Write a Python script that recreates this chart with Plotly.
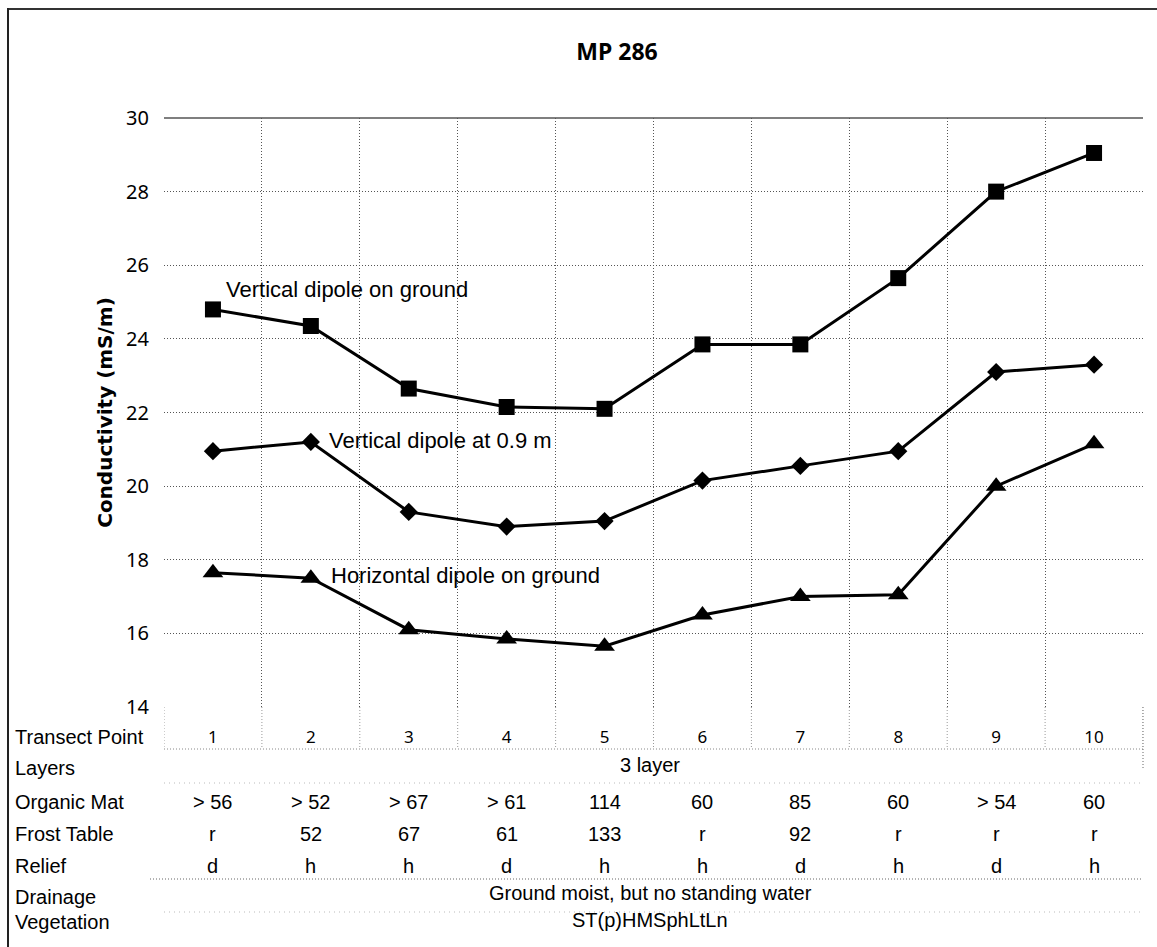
import plotly.graph_objects as go

# ---------------- data ----------------
transect_points = [1, 2, 3, 4, 5, 6, 7, 8, 9, 10]
vertical_ground = [24.8, 24.35, 22.65, 22.15, 22.1, 23.85, 23.85, 25.65, 28.0, 29.05]
vertical_09 = [20.95, 21.2, 19.3, 18.9, 19.05, 20.15, 20.55, 20.95, 23.1, 23.3]
horizontal_ground = [17.65, 17.5, 16.1, 15.85, 15.65, 16.5, 17.0, 17.05, 20.0, 21.15]

series_names = ["Vertical dipole on ground", "Vertical dipole at 0.9 m", "Horizontal dipole on ground"]

y_ticks = [14, 16, 18, 20, 22, 24, 26, 28, 30]

layers_text = "3 layer"
organic_mat = ["> 56", "> 52", "> 67", "> 61", "114", "60", "85", "60", "> 54", "60"]
frost_table = ["r", "52", "67", "61", "133", "r", "92", "r", "r", "r"]
relief = ["d", "h", "h", "d", "h", "h", "d", "h", "d", "h"]
drainage_text = "Ground moist, but no standing water"
vegetation_text = "ST(p)HMSphLtLn"
row_labels = ["Transect Point", "Layers", "Organic Mat", "Frost Table", "Relief", "Drainage", "Vegetation"]

# ---------------- layout geometry (pixels) ----------------
W, H = 1157, 947
L, R, T, B = 164, 14, 118, 240
PW = W - L - R
PH = H - T - B


def py(p):  # pixel y -> paper y
    return (H - B - p) / PH


def px(p):  # pixel x -> paper x
    return (p - L) / PW


fig = go.Figure()

line_style = dict(color="black", width=3)
fig.add_trace(go.Scatter(x=transect_points, y=vertical_ground, mode="lines+markers",
                         name=series_names[0], line=line_style,
                         marker=dict(symbol="square", size=16, color="black")))
fig.add_trace(go.Scatter(x=transect_points, y=vertical_09, mode="lines+markers",
                         name=series_names[1], line=line_style,
                         marker=dict(symbol="diamond", size=14, color="black")))
fig.add_trace(go.Scatter(x=transect_points, y=horizontal_ground, mode="lines+markers",
                         name=series_names[2], line=line_style,
                         marker=dict(symbol="triangle-up", size=18, color="black")))

grid_col = "#555555"
grid_dash = "1px,2px"

fig.update_layout(
    width=W, height=H,
    margin=dict(l=L, r=R, t=T, b=B, pad=0),
    paper_bgcolor="white", plot_bgcolor="white",
    showlegend=False,
    title=dict(text="<b>MP 286</b>", xref="paper", x=px(617), xanchor="center",
               yref="container", y=1 - 52 / H, yanchor="middle",
               font=dict(family="Noto Sans", size=23, color="black")),
    xaxis=dict(
        range=[0.5, 10.5], tickvals=transect_points, ticktext=[str(v) for v in transect_points],
        showgrid=False, zeroline=False, showline=False, ticks="",
        ticklabelstandoff=18,
        tickfont=dict(family="Noto Sans", size=17, color="black"),
        minor=dict(tickvals=[v + 0.5 for v in [0] + transect_points], showgrid=True,
                   gridcolor=grid_col, griddash=grid_dash, gridwidth=1, ticks=""),
    ),
    yaxis=dict(
        range=[14, 30], tickvals=y_ticks, ticktext=[str(v) for v in y_ticks],
        showgrid=True, gridcolor=grid_col, griddash=grid_dash, gridwidth=1,
        zeroline=False, showline=False, ticks="", ticklabelstandoff=14,
        tickfont=dict(family="Noto Sans", size=20, color="black"),
        title=dict(text="<b>Conductivity (mS/m)</b>", standoff=8,
                   font=dict(family="DejaVu Sans", size=20, color="black")),
    ),
)

shapes = []
# outer frame (top and left)
shapes.append(dict(type="line", xref="paper", yref="paper", x0=px(8), x1=px(W), y0=py(9), y1=py(9),
                   line=dict(color="#333", width=2)))
shapes.append(dict(type="line", xref="paper", yref="paper", x0=px(8), x1=px(8), y0=py(8), y1=py(H),
                   line=dict(color="#222", width=2)))
# top edge of plot area
shapes.append(dict(type="line", xref="paper", yref="paper", x0=0, x1=1, y0=1, y1=1,
                   line=dict(color="#555", width=1.5)))
# table dotted lines
shapes.append(dict(type="line", xref="paper", yref="paper", x0=0, x1=1, y0=py(749), y1=py(749),
                   line=dict(color="#888", width=1, dash=grid_dash)))
shapes.append(dict(type="line", xref="paper", yref="paper", x0=px(150), x1=1, y0=py(879), y1=py(879),
                   line=dict(color="#666", width=1, dash=grid_dash)))
shapes.append(dict(type="line", xref="paper", yref="paper", x0=0, x1=1, y0=py(783), y1=py(783),
                   line=dict(color="#bbb", width=1, dash="1px,4px")))
shapes.append(dict(type="line", xref="paper", yref="paper", x0=0, x1=1, y0=py(912), y1=py(912),
                   line=dict(color="#bbb", width=1, dash="1px,4px")))
shapes.append(dict(type="line", xref="paper", yref="paper", x0=1, x1=1, y0=py(707), y1=py(768),
                   line=dict(color="#666", width=1, dash=grid_dash)))
# category boundary lines continuing through transect row
for b in [0.5] + [v + 0.5 for v in transect_points]:
    shapes.append(dict(type="line", xref="x", yref="paper", x0=b, x1=b, y0=py(707), y1=py(749),
                       line=dict(color="#999", width=1, dash=grid_dash)))
fig.update_layout(shapes=shapes)

ann = []
table_font = dict(family="Liberation Sans, Arial", size=20, color="black")
# row labels
row_y = [737, 768, 802, 834, 866, 897, 922]
for lab, yy in zip(row_labels, row_y):
    ann.append(dict(text=lab, xref="paper", yref="paper", x=px(13), y=py(yy), xanchor="left",
                    yanchor="middle", showarrow=False, font=table_font))
# per-point values
for rows, yy in [(organic_mat, 802), (frost_table, 834), (relief, 866)]:
    for xv, t in zip(transect_points, rows):
        ann.append(dict(text=t, xref="x", yref="paper", x=xv, y=py(yy), xanchor="center",
                        yanchor="middle", showarrow=False, font=table_font))
# spanning values
for t, yy in [(layers_text, 765), (drainage_text, 893), (vegetation_text, 920)]:
    ann.append(dict(text=t, xref="paper", yref="paper", x=px(650), y=py(yy), xanchor="center",
                    yanchor="middle", showarrow=False, font=table_font))
# series labels
label_font = dict(family="Liberation Sans, Arial", size=22, color="black")
ann.append(dict(text=series_names[0], xref="x", yref="y", x=1.11, y=25.33, xanchor="left",
                yanchor="middle", showarrow=False, font=label_font))
ann.append(dict(text=series_names[1], xref="x", yref="y", x=2.17, y=21.25, xanchor="left",
                yanchor="middle", showarrow=False, font=label_font))
ann.append(dict(text=series_names[2], xref="x", yref="y", x=2.19, y=17.58, xanchor="left",
                yanchor="middle", showarrow=False, font=label_font))
fig.update_layout(annotations=ann)

fig.write_html("out.html")
